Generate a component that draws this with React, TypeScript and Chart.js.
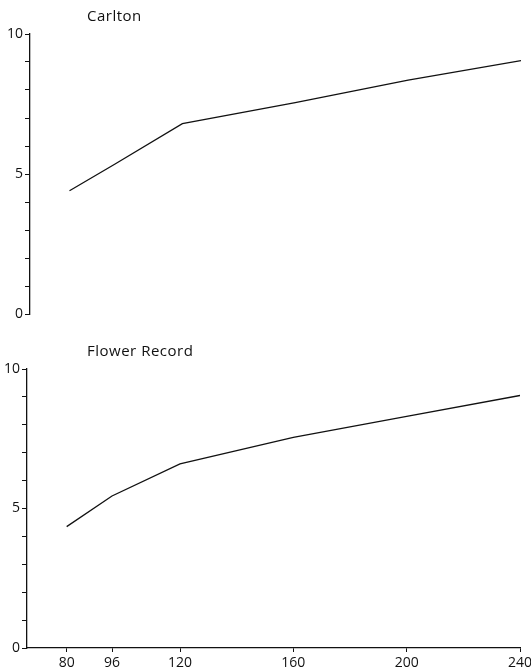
import React, { useEffect, useRef } from "react";
import { Chart, registerables } from "chart.js";

Chart.register(...registerables);

const xValues = [80, 96, 120, 160, 200, 240];
const carlton = [4.4, 5.35, 6.8, 7.55, 8.35, 9.05];
const flowerRecord = [4.35, 5.45, 6.6, 7.55, 8.3, 9.05];
const xTicks = [80, 96, 120, 160, 200, 240];
const panelTitles = ["Carlton", "Flower Record"];

const FONT = "'Open Sans', 'DejaVu Sans', sans-serif";
const INK = "#111";

const titlePlugin = {
  id: "panelTitle",
  afterDraw(chart: any) {
    const opts = chart.options.plugins.panelTitle;
    if (!opts?.text) return;
    const { ctx, chartArea } = chart;
    ctx.save();
    ctx.font = `15px ${FONT}`;
    (ctx as any).letterSpacing = "0.5px";
    ctx.fillStyle = INK;
    ctx.textBaseline = "middle";
    ctx.textAlign = "left";
    ctx.fillText(opts.text, chartArea.left + opts.offset, chartArea.top - 17);
    ctx.restore();
  },
};

function makeConfig(values: number[], title: string, showX: boolean, yWidth: number, titleOffset: number) {
  return {
    type: "line" as const,
    data: {
      datasets: [
        {
          data: xValues.map((x, i) => ({ x, y: values[i] })),
          borderColor: INK,
          borderWidth: 1.3,
          pointRadius: 0,
          tension: 0,
          fill: false,
        },
      ],
    },
    options: {
      animation: false,
      responsive: false,
      layout: { padding: { top: 34, right: showX ? 0 : 10, bottom: showX ? 0 : 21, left: 0 } },
      plugins: {
        legend: { display: false },
        tooltip: { enabled: false },
        panelTitle: { text: title, offset: titleOffset },
      },
      scales: {
        x: {
          type: "linear",
          display: showX,
          min: 66,
          max: 240,
          afterBuildTicks(scale: any) {
            scale.ticks = xTicks.map((v) => ({ value: v }));
          },
          afterFit(scale: any) {
            if (showX) {
              scale.height = 24;
              scale.paddingRight = 11;
            }
          },
          ticks: {
            color: INK,
            font: { family: FONT, size: 14 },
            padding: 3,
            maxRotation: 0,
            autoSkip: false,
            callback: (v: any) => String(v),
          },
          grid: { drawOnChartArea: false, drawTicks: true, tickLength: 4, color: INK, lineWidth: 1 },
          border: { display: true, color: INK, width: 1.3 },
        },
        y: {
          type: "linear",
          min: 0,
          max: 10,
          afterFit(scale: any) {
            scale.width = yWidth;
          },
          ticks: {
            stepSize: 1,
            color: INK,
            font: { family: FONT, size: 14 },
            padding: 2,
            callback: (v: any) => (v % 5 === 0 ? String(v) : ""),
          },
          grid: { drawOnChartArea: false, drawTicks: true, tickLength: 5, color: INK, lineWidth: 1 },
          border: { display: true, color: INK, width: 1.3 },
        },
      },
    },
    plugins: [titlePlugin],
  };
}

function Panel({ values, title, showX, top, height, yWidth, titleOffset }: any) {
  const ref = useRef<HTMLCanvasElement>(null);
  useEffect(() => {
    const chart = new Chart(
      ref.current as HTMLCanvasElement,
      makeConfig(values, title, showX, yWidth, titleOffset) as any
    );
    return () => chart.destroy();
  }, []);
  return (
    <canvas
      ref={ref}
      width={531}
      height={height}
      style={{ position: "absolute", left: 0, top, width: 531, height, display: "block" }}
    />
  );
}

export default function App() {
  return (
    <div style={{ position: "fixed", left: 0, top: 0, width: 531, height: 672, background: "#fff" }}>
      <Panel values={carlton} title={panelTitles[0]} showX={false} top={0} height={335} yWidth={30} titleOffset={57} />
      <Panel values={flowerRecord} title={panelTitles[1]} showX={true} top={335} height={337} yWidth={27} titleOffset={60} />
    </div>
  );
}
